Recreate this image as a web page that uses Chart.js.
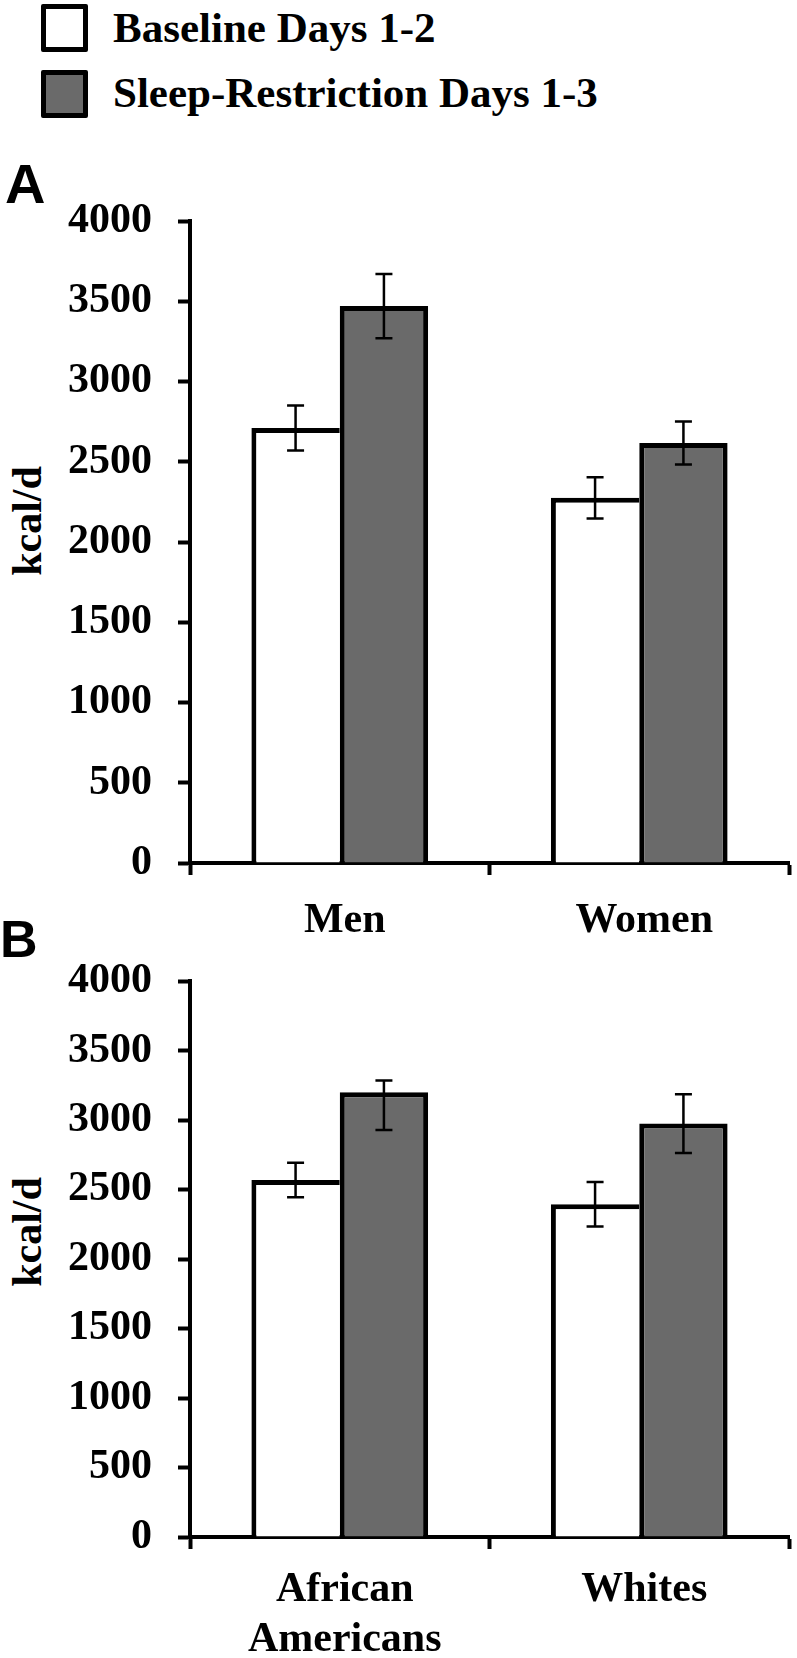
<!DOCTYPE html>
<html>
<head>
<meta charset="utf-8">
<script src="https://cdn.jsdelivr.net/npm/chart.js@4.4.1/dist/chart.umd.min.js"></script>
<style>
  html, body { margin: 0; padding: 0; background: #fff; }
  body { width: 797px; height: 1658px; position: relative; overflow: hidden; font-family: 'Liberation Serif', 'Times New Roman', serif; color: #000; }
  canvas { position: absolute; left: 0; }
  .lg-box { position: absolute; left: 41px; width: 47px; height: 48px; box-sizing: border-box; border: 5px solid #000; border-radius: 2px; }
  .lg-text { position: absolute; left: 113px; font-weight: bold; font-size: 43px; line-height: 43px; white-space: nowrap; }
  .panel { position: absolute; font-family: 'Liberation Sans', Arial, sans-serif; font-weight: bold; line-height: 1; }
  .ytitle { position: absolute; font-weight: bold; font-size: 42px; line-height: 42px; white-space: nowrap; transform: translate(-50%, -50%) rotate(-90deg); }
</style>
</head>
<body>

<div class="lg-box" style="top:4px; background:#fff;"></div>
<div class="lg-text" id="lg0" style="top:6px;"></div>
<div class="lg-box" style="top:70px; background:#6a6a6a;"></div>
<div class="lg-text" id="lg1" style="top:71px;"></div>

<div class="panel" style="left:5px; top:156px; font-size:56px;">A</div>
<div class="panel" style="left:0px; top:913px; font-size:52px;">B</div>

<div class="ytitle" style="left:27px; top:521px;">kcal/d</div>
<div class="ytitle" style="left:27px; top:1232px;">kcal/d</div>

<canvas id="chartA" width="797" height="800" style="top:150px"></canvas>
<canvas id="chartB" width="797" height="728" style="top:930px"></canvas>

<script>
// series names (legend)
const seriesNames = ['Baseline Days 1-2', 'Sleep-Restriction Days 1-3'];

// y axis tick values (kcal/d)
const yTicks = [0, 500, 1000, 1500, 2000, 2500, 3000, 3500, 4000];

// panel A: by sex
const categoriesA = ['Men', 'Women'];
const baselineA = [2710, 2275];
const baselineErrA = [140, 128];
const sleepA = [3470, 2617];
const sleepErrA = [200, 134];

// panel B: by race (whisker below / above the bar top, as read)
const categoriesB = [['African', 'Americans'], 'Whites'];
const baselineB = [2569, 2394];
const baselineErrB = [124, 160];
const sleepB = [3200, 2975];
const sleepErrLowB = [270, 212];
const sleepErrHighB = [85, 212];

document.getElementById('lg0').textContent = seriesNames[0];
document.getElementById('lg1').textContent = seriesNames[1];

const tickFont = { family: "'Liberation Serif', 'Times New Roman', serif", size: 42, weight: 'bold' };

// draw whiskers on top of the bars
const errorBars = {
  id: 'errorBars',
  afterDatasetsDraw(chart) {
    const ctx = chart.ctx;
    const y = chart.scales.y;
    ctx.save();
    ctx.strokeStyle = '#000';
    ctx.lineWidth = 2.5;
    chart.data.datasets.forEach((ds, di) => {
      const meta = chart.getDatasetMeta(di);
      meta.data.forEach((bar, i) => {
        const hi = y.getPixelForValue(ds.data[i] + ds.errHigh[i]);
        const lo = y.getPixelForValue(ds.data[i] - ds.errLow[i]);
        const half = 8.5;
        ctx.beginPath();
        ctx.moveTo(bar.x, hi); ctx.lineTo(bar.x, lo);
        ctx.moveTo(bar.x - half, hi); ctx.lineTo(bar.x + half, hi);
        ctx.moveTo(bar.x - half, lo); ctx.lineTo(bar.x + half, lo);
        ctx.stroke();
      });
    });
    ctx.restore();
  }
};

function makeChart(id, labels, base, baseLow, baseHigh, sleep, sleepLow, sleepHigh, padTop, xPad, xHeight) {
  return new Chart(document.getElementById(id), {
    type: 'bar',
    data: {
      labels: labels,
      datasets: [
        {
          label: seriesNames[0],
          data: base,
          errLow: baseLow,
          errHigh: baseHigh,
          backgroundColor: '#ffffff',
          borderColor: '#000000',
          borderWidth: { top: 5, left: 5, right: 0, bottom: 0 }
        },
        {
          label: seriesNames[1],
          data: sleep,
          errLow: sleepLow,
          errHigh: sleepHigh,
          backgroundColor: '#6a6a6a',
          borderColor: '#000000',
          borderWidth: { top: 5, left: 5, right: 5, bottom: 0 }
        }
      ]
    },
    options: {
      responsive: false,
      animation: false,
      devicePixelRatio: 1,
      categoryPercentage: 0.59,
      barPercentage: 1.0,
      layout: { padding: { top: padTop, right: 8, bottom: 0, left: 0 } },
      plugins: {
        legend: { display: false },
        tooltip: { enabled: false }
      },
      scales: {
        x: {
          grid: { display: true, drawOnChartArea: false, offset: true, tickLength: 12, tickWidth: 4, tickColor: '#000' },
          border: { display: true, color: '#000', width: 4 },
          ticks: { color: '#000', font: tickFont, padding: xPad, maxRotation: 0, autoSkip: false, labelOffset: 5 },
          afterFit(s) { s.height = xHeight; }
        },
        y: {
          min: 0,
          max: 4000,
          grid: { display: true, drawOnChartArea: false, tickLength: 12, tickWidth: 4, tickColor: '#000' },
          border: { display: true, color: '#000', width: 4 },
          ticks: { color: '#000', font: tickFont, padding: 26, callback: v => String(v) },
          afterBuildTicks(s) { s.ticks = yTicks.map(v => ({ value: v })); },
          afterFit(s) { s.width = 190; }
        }
      }
    },
    plugins: [errorBars]
  });
}

makeChart('chartA', categoriesA, baselineA, baselineErrA, baselineErrA, sleepA, sleepErrA, sleepErrA, 71, 21, 87);
makeChart('chartB', categoriesB, baselineB, baselineErrB, baselineErrB, sleepB, sleepErrLowB, sleepErrHighB, 34, 16, 121);
</script>
</body>
</html>
